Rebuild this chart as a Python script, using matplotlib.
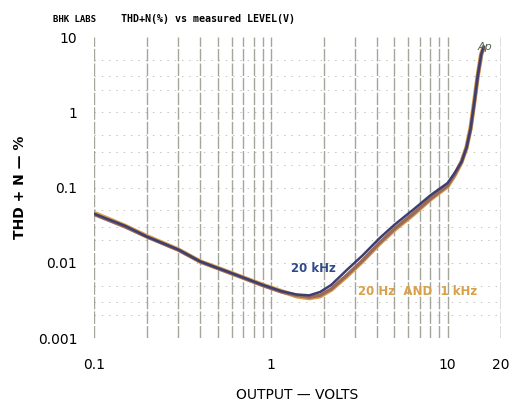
import matplotlib.pyplot as plt
from matplotlib.ticker import FixedLocator, NullFormatter

# values (output volts vs THD+N %)
volts = [0.1, 0.15, 0.2, 0.3, 0.4, 0.6, 0.9, 1.15, 1.4, 1.65, 1.9, 2.2,
         2.7, 3.3, 4.1, 5.0, 6.4, 8.0, 10.0, 11.0, 12.0, 12.8, 13.5, 14.2,
         14.8, 15.5, 16.0]
thd_20hz = [0.046, 0.031, 0.0225, 0.0150, 0.0104, 0.0073, 0.0051, 0.0042,
            0.0036, 0.0034, 0.0036, 0.0044, 0.0067, 0.0105, 0.0178, 0.0275,
            0.044, 0.070, 0.104, 0.148, 0.22, 0.34, 0.62, 1.45, 3.0, 5.9, 7.4]
thd_1khz = [0.044, 0.030, 0.0220, 0.0148, 0.0103, 0.0072, 0.0050, 0.0041,
            0.0037, 0.0035, 0.0037, 0.0045, 0.0069, 0.0107, 0.0182, 0.0282,
            0.045, 0.071, 0.106, 0.150, 0.22, 0.34, 0.60, 1.40, 3.0, 5.8, 7.3]
thd_20khz = [0.045, 0.031, 0.0222, 0.0150, 0.0104, 0.0073, 0.0051, 0.0042,
             0.0038, 0.0037, 0.0041, 0.0051, 0.0081, 0.0125, 0.0210, 0.0320,
             0.051, 0.079, 0.115, 0.158, 0.22, 0.34, 0.61, 1.42, 3.0, 5.9, 7.4]

x_ticks = [0.1, 1, 10, 20]
x_labels = ["0.1", "1", "10", "20"]
y_ticks = [0.001, 0.01, 0.1, 1, 10]
y_labels = ["0.001", "0.01", "0.1", "1", "10"]

fig = plt.figure(figsize=(5.11, 4.03), dpi=100)
ax = fig.add_axes([0.184, 0.161, 0.796, 0.747])
ax.set_xscale("log")
ax.set_yscale("log")
ax.set_xlim(0.1, 20)
ax.set_ylim(0.001, 10)

# chart-recorder style grid
minor_x = [m * d for d in (0.1, 1, 10) for m in range(1, 10) if 0.1 <= m * d <= 20]
for xv in minor_x + [20]:
    ax.axvline(xv, color="#7d8070", lw=1.0, alpha=0.7,
               linestyle=(0, (9, 1.5)), zorder=1)
minor_y = [m * d for d in (0.001, 0.01, 0.1, 1) for m in (1, 2, 3, 5)]
for yv in minor_y:
    ax.axhline(yv, color="#9a9c90", lw=0.7, alpha=0.6,
               linestyle=(0, (1.5, 6)), zorder=1)

ax.plot(volts, thd_20hz, color="#d9a04a", lw=3.2, solid_capstyle="round", zorder=3)
ax.plot(volts, thd_1khz, color="#9b6a58", lw=2.4, solid_capstyle="round", zorder=4)
ax.plot(volts, thd_20khz, color="#3d3f72", lw=1.8, solid_capstyle="round", zorder=5)

for s in ax.spines.values():
    s.set_visible(False)
ax.xaxis.set_major_locator(FixedLocator(x_ticks))
ax.yaxis.set_major_locator(FixedLocator(y_ticks))
ax.xaxis.set_minor_formatter(NullFormatter())
ax.yaxis.set_minor_formatter(NullFormatter())
ax.tick_params(which="both", length=0)
ax.set_xticklabels(x_labels, fontsize=10)
ax.set_yticklabels(y_labels, fontsize=10)
ax.tick_params(axis="x", pad=14)
ax.tick_params(axis="y", pad=12)

ax.set_xlabel("OUTPUT — VOLTS", fontsize=10, labelpad=12)
ax.set_ylabel("THD + N — %", fontsize=10, fontweight="bold", labelpad=8)

ax.text(1.3, 0.0085, "20 kHz", color="#2f4a8c", fontsize=8.5, fontweight="bold",
        ha="left", va="center", zorder=6)
ax.text(3.1, 0.0041, "20 Hz  AND  1 kHz", color="#d9a04a", fontsize=8.5,
        fontweight="bold", ha="left", va="center", zorder=6)
ax.text(16.2, 7.3, "Ap", color="#556655", fontsize=8, style="italic",
        ha="center", va="center", zorder=6)

fig.text(0.104, 0.952, "BHK LABS", fontsize=6.5, fontweight="bold",
         fontfamily="DejaVu Sans Mono", va="center")
fig.text(0.237, 0.952, "THD+N(%) vs measured LEVEL(V)", fontsize=7.2,
         fontweight="bold", fontfamily="DejaVu Sans Mono", va="center")

fig.savefig("out.png", dpi=100)
